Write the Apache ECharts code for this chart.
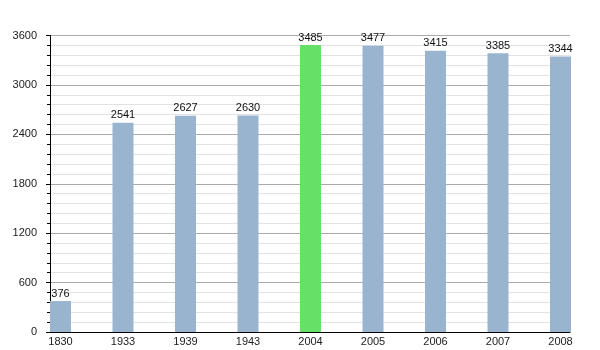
<!DOCTYPE html>
<html>
<head>
<meta charset="utf-8">
<script src="https://cdn.jsdelivr.net/npm/echarts@6/dist/echarts.min.js"></script>
<style>html,body{margin:0;padding:0;background:#fff;}#c{width:600px;height:350px;}</style>
</head>
<body>
<div id="c"></div>
<script>
const years = ['1830','1933','1939','1943','2004','2005','2006','2007','2008'];
const population = [376, 2541, 2627, 2630, 3485, 3477, 3415, 3385, 3344];
const highlightYear = '2004';
const yTicks = [0, 600, 1200, 1800, 2400, 3000, 3600];

const chart = echarts.init(document.getElementById('c'), null, {renderer: 'canvas'});
const idx = years.map((y, i) => i);
chart.setOption({
  animation: false,
  backgroundColor: '#fff',
  grid: {left: 50, right: 30, top: 35.5, bottom: 18, containLabel: false},
  xAxis: {
    type: 'value',
    min: -0.168, max: 8.152,
    axisLine: {show: true, onZero: false, lineStyle: {color: '#000', width: 1}},
    axisTick: {show: false},
    splitLine: {show: false},
    axisLabel: {
      customValues: idx,
      formatter: v => years[Math.round(v)],
      color: '#222', fontSize: 11, fontFamily: 'Liberation Sans, Arial, sans-serif', margin: 4
    }
  },
  yAxis: {
    type: 'value',
    min: 0, max: 3600, interval: 600,
    axisLine: {show: true, onZero: false, lineStyle: {color: '#000', width: 1}},
    axisTick: {show: true, length: 4, lineStyle: {color: '#000'}},
    minorTick: {show: true, splitNumber: 5, length: 3, lineStyle: {color: '#000'}},
    splitLine: {show: true, lineStyle: {color: '#aaa', width: 1}},
    minorSplitLine: {show: true, lineStyle: {color: '#e2e2e2', width: 1}},
    axisLabel: {
      customValues: yTicks,
      formatter: v => String(v),
      color: '#222', fontSize: 11, fontFamily: 'Liberation Sans, Arial, sans-serif', margin: 13
    }
  },
  series: [{
    type: 'bar',
    barWidth: 21,
    data: population.map((v, i) => ({
      value: [i, v],
      itemStyle: {color: years[i] === highlightYear ? '#66e066' : '#99b4cf'}
    })),
    label: {
      show: true, position: 'top', distance: 2,
      formatter: p => p.value[1],
      color: '#111', fontSize: 11, fontFamily: 'Liberation Sans, Arial, sans-serif'
    }
  }]
});
</script>
</body>
</html>
